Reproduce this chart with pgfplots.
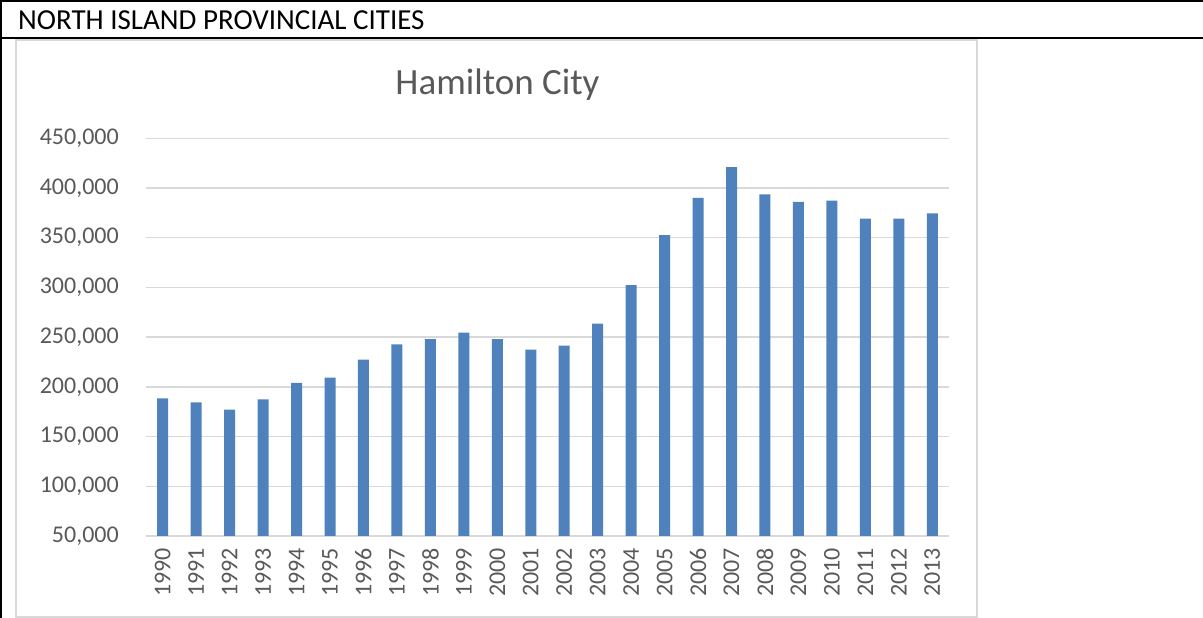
\documentclass[border=0pt]{standalone}
\usepackage{fontspec}
\setmainfont{Carlito}
\usepackage{pgfplots}
\pgfplotsset{compat=1.18}
\definecolor{barblue}{HTML}{4F81BD}
\definecolor{gridgray}{HTML}{D9D9D9}
\definecolor{txtgray}{HTML}{595959}
\begin{document}
\begin{tikzpicture}[x=1pt,y=1pt]
\path[use as bounding box] (0,0) rectangle (1203,618);
% table lines
\draw[black, line width=1.8pt] (0,617) -- (1203,617);
\draw[black, line width=1.8pt] (0,580) -- (1203,580);
\draw[black, line width=1.8pt] (1,0) -- (1,618);
% chart frame
\draw[gridgray, line width=2pt] (16,1) rectangle (977,578);
\node[anchor=base west, inner sep=0pt, font=\fontsize{29}{34}\selectfont] at (18,588) {NORTH ISLAND PROVINCIAL CITIES};
\node[anchor=base, inner sep=0pt, text=txtgray, font=\fontsize{37}{44}\selectfont] at (497.5,523.7) {Hamilton City};
\begin{axis}[
  at={(146pt,82pt)}, anchor=south west,
  scale only axis, width=803pt, height=397.7pt,
  ybar, bar width=11pt,
  xmin=-0.5, xmax=23.5,
  ymin=50000, ymax=450000,
  ytick={50000,100000,...,450000},
  xtick=data,
  xticklabels={1990,1991,1992,1993,1994,1995,1996,1997,1998,1999,2000,2001,2002,2003,2004,2005,2006,2007,2008,2009,2010,2011,2012,2013},
  scaled y ticks=false,
  /pgf/number format/.cd, fixed, 1000 sep={,}, assume math mode=true,
  /pgfplots/.cd,
  axis line style={draw=none},
  tick style={draw=none},
  major tick length=0pt,
  ymajorgrids,
  grid style={gridgray, line width=1.3pt},
  ticklabel style={text=txtgray, font=\fontsize{24}{28}\selectfont, inner sep=0pt},
  yticklabel style={anchor=east},
  yticklabel shift=27pt,
  xticklabel style={rotate=90, anchor=east},
  xticklabel shift=12pt,
]
\addplot[fill=barblue, draw=none] coordinates {
(0,188500) (1,184500) (2,177100) (3,187500) (4,203900) (5,209300)
(6,227400) (7,242800) (8,247900) (9,254500) (10,247900) (11,237400)
(12,241400) (13,263600) (14,302200) (15,352500) (16,390000) (17,420900)
(18,393700) (19,386000) (20,387300) (21,369200) (22,369200) (23,374600)
};
\end{axis}
\end{tikzpicture}
\end{document}
